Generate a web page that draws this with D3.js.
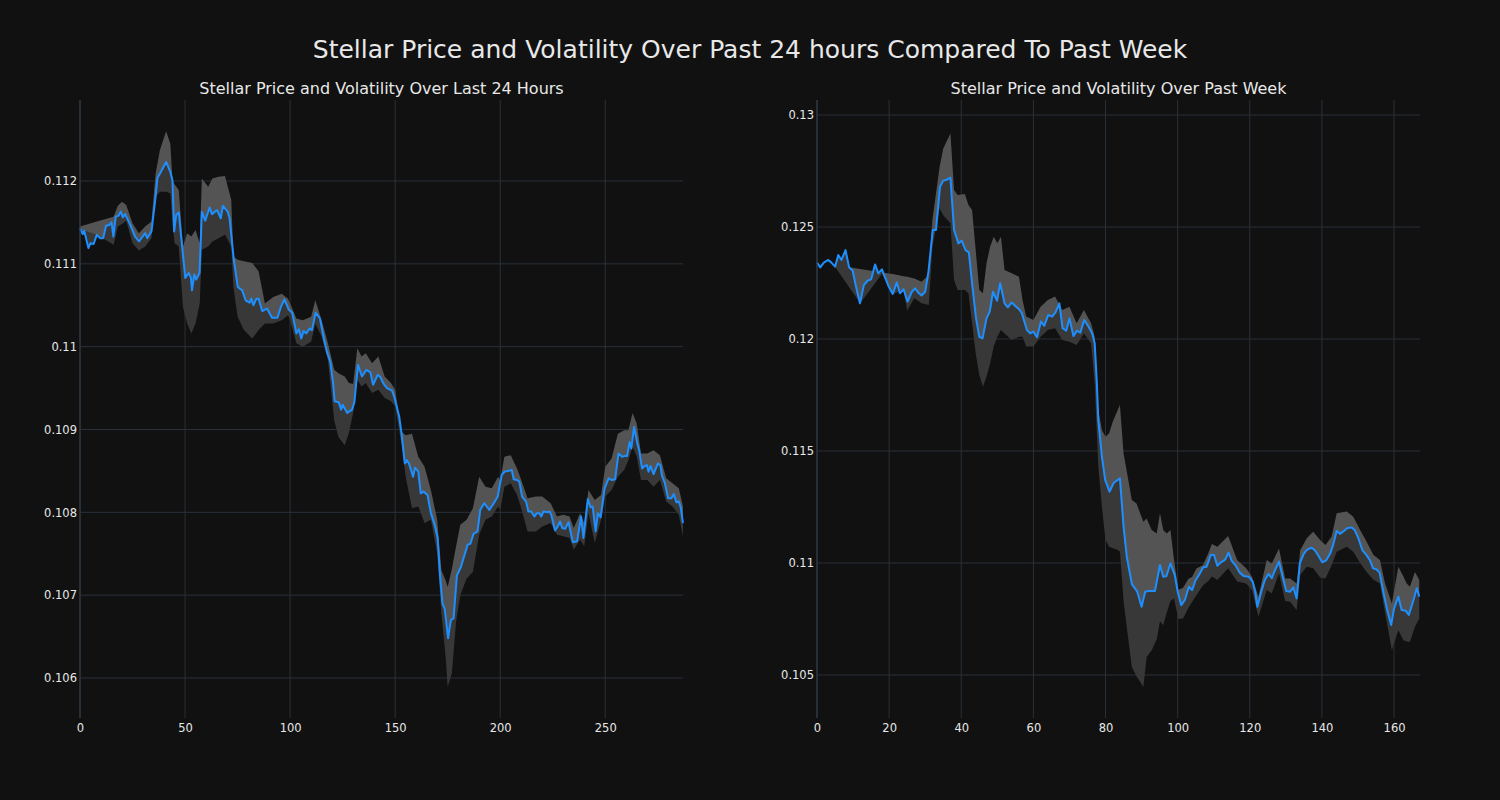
<!DOCTYPE html>
<html>
<head>
<meta charset="utf-8">
<script src="https://cdn.jsdelivr.net/npm/d3@7"></script>
<style>
  html, body { margin: 0; padding: 0; background: #111111; }
  svg { display: block; }
  text { font-family: "DejaVu Sans", sans-serif; fill: #e8e8e8; }
</style>
</head>
<body>
<svg id="chart" width="1500" height="800"></svg>
<script>
// ---------- DATA ----------
const mainTitle = "Stellar Price and Volatility Over Past 24 hours Compared To Past Week";
const dayTitle = "Stellar Price and Volatility Over Last 24 Hours";
const weekTitle = "Stellar Price and Volatility Over Past Week";

const dayXTicks = [0, 50, 100, 150, 200, 250];
const dayYTicks = [0.106, 0.107, 0.108, 0.109, 0.110, 0.111, 0.112];
const weekXTicks = [0, 20, 40, 60, 80, 100, 120, 140, 160];
const weekYTicks = [0.105, 0.110, 0.115, 0.120, 0.125, 0.130];

const dayX = [0,1.3,2,4,5,6.5,8,9.5,11,12.4,14,15,15.9,17,18.3,19.4,20.4,21.5,23.9,26.2,28.1,31,32,34,35.8,36.9,38.5,41,43,44,44.8,45.8,47,50.1,51.7,52.8,53.3,54.4,55.3,56.9,58,59.6,61.7,62.8,65.2,67,68,70.3,71.2,73.2,75.1,77.2,78.8,80.7,81.5,82.5,84,85,86.7,89,91.4,94,95.6,97.3,99.3,101,103,104.2,105.3,106.4,107.7,109.3,110.4,112.1,114.2,116.2,117.5,119.1,120.5,121.2,123.1,124.3,125,127.2,129.5,130.6,132.3,134.2,136.3,138.2,139.5,141.7,143,144.3,146.1,148.5,149.5,151.9,153,154.6,155.5,156.6,158.5,159.5,161,162.2,163.5,165.4,167,169,170.2,171.4,172.5,173.6,175.2,176.5,177.8,179.4,181.3,184.5,185.8,187.3,189.2,190.5,192.4,194.8,197.2,198.8,200.7,202,205.5,206.4,208,209.1,210.4,212.3,213.4,214.7,216.3,217.4,218.7,219.5,220.6,222.4,223.5,224.3,226.1,227.4,228.5,229.5,230.9,232.5,234.6,236.6,238.5,239.6,241.7,243,244,245.4,246.5,247.8,249.7,251.6,253.2,254.7,256.3,258,259.1,260.4,261.6,262.4,263.7,265.1,266.1,267.5,268.7,269.8,270.6,271.5,273,273.9,275.1,276.2,277,278.3,279.9,281.5,282.6,283.9,285,285.9,287];
const dayPrice = [0.11143,0.11136,0.11140,0.11119,0.11125,0.11124,0.11135,0.11131,0.11131,0.11146,0.11147,0.11150,0.11133,0.11157,0.11158,0.11163,0.11156,0.11160,0.11147,0.11133,0.11127,0.11137,0.11131,0.11139,0.11177,0.11204,0.11211,0.11223,0.11211,0.11201,0.11139,0.11159,0.11162,0.11083,0.11089,0.11083,0.11068,0.11087,0.11081,0.11089,0.11163,0.11152,0.11168,0.11160,0.11165,0.11155,0.11170,0.11163,0.11155,0.11105,0.11072,0.11068,0.11056,0.11053,0.11058,0.11050,0.11058,0.11058,0.11043,0.11046,0.11035,0.11035,0.11048,0.11057,0.11045,0.11041,0.11016,0.11021,0.11010,0.11019,0.11016,0.11022,0.11020,0.11041,0.11034,0.11008,0.10994,0.10982,0.10955,0.10934,0.10933,0.10924,0.10930,0.10920,0.10924,0.10933,0.10978,0.10964,0.10972,0.10969,0.10954,0.10966,0.10963,0.10956,0.10950,0.10947,0.10940,0.10916,0.10896,0.10859,0.10863,0.10859,0.10843,0.10854,0.10849,0.10823,0.10825,0.10821,0.10799,0.10783,0.10769,0.10722,0.10690,0.10683,0.10648,0.10670,0.10672,0.10724,0.10734,0.10761,0.10762,0.10774,0.10777,0.10803,0.10811,0.10803,0.10812,0.10819,0.10845,0.10849,0.10851,0.10840,0.10839,0.10837,0.10819,0.10813,0.10801,0.10801,0.10795,0.10799,0.10799,0.10795,0.10801,0.10800,0.10801,0.10797,0.10778,0.10783,0.10789,0.10781,0.10780,0.10788,0.10764,0.10765,0.10795,0.10769,0.10816,0.10806,0.10807,0.10777,0.10799,0.10794,0.10829,0.10841,0.10839,0.10840,0.10871,0.10867,0.10868,0.10868,0.10885,0.10877,0.10903,0.10885,0.10875,0.10853,0.10856,0.10857,0.10849,0.10856,0.10846,0.10852,0.10859,0.10857,0.10844,0.10836,0.10817,0.10817,0.10822,0.10812,0.10813,0.10806,0.10787];

const dayBandX = [0,8,16,18,20,22,25,28,31,34,36,38,41,43,44,45,47,49,51,53,55,57,58,61,63,66,69,72,73,75,78,82,85,88,92,96,99,100,103,106,110,112,115,118,121,123,126,128,130,132,134,136,139,142,145,148,150,153,155,158,161,164,167,170,172,174,175,177,179,181,184,187,190,193,196,199,200,202,205,208,210,213,217,220,224,227,230,233,235,238,240,242,245,248,250,253,256,259,261,263,265,267,270,273,276,279,282,285,287];
const dayUpper = [0.11145,0.11151,0.11157,0.11170,0.11175,0.11171,0.11149,0.11137,0.11145,0.11151,0.11209,0.11237,0.11260,0.11245,0.11201,0.11196,0.11189,0.11121,0.11137,0.11133,0.11141,0.11125,0.11203,0.11193,0.11203,0.11205,0.11206,0.11177,0.11109,0.11105,0.11103,0.11101,0.11091,0.11052,0.11060,0.11064,0.11058,0.11052,0.11034,0.11032,0.11036,0.11056,0.11032,0.11004,0.10972,0.10968,0.10964,0.10956,0.10955,0.10998,0.10988,0.10992,0.10980,0.10988,0.10964,0.10956,0.10948,0.10897,0.10893,0.10895,0.10867,0.10855,0.10827,0.10791,0.10730,0.10718,0.10710,0.10732,0.10759,0.10785,0.10791,0.10805,0.10843,0.10831,0.10829,0.10843,0.10839,0.10867,0.10869,0.10853,0.10839,0.10817,0.10819,0.10819,0.10811,0.10795,0.10797,0.10795,0.10781,0.10799,0.10787,0.10827,0.10815,0.10821,0.10855,0.10865,0.10895,0.10899,0.10899,0.10920,0.10907,0.10871,0.10871,0.10875,0.10869,0.10841,0.10835,0.10829,0.10807];
const dayLower = [0.11142,0.11135,0.11123,0.11145,0.11148,0.11152,0.11125,0.11116,0.11121,0.11131,0.11181,0.11187,0.11187,0.11185,0.11150,0.11125,0.11121,0.11048,0.11028,0.11016,0.11028,0.11052,0.11117,0.11121,0.11127,0.11131,0.11135,0.11121,0.11072,0.11036,0.11020,0.11010,0.11020,0.11028,0.11028,0.11032,0.11038,0.11032,0.11004,0.11000,0.11006,0.11028,0.11012,0.10984,0.10911,0.10891,0.10881,0.10896,0.10920,0.10960,0.10952,0.10956,0.10944,0.10948,0.10938,0.10934,0.10928,0.10883,0.10843,0.10805,0.10807,0.10787,0.10791,0.10751,0.10678,0.10626,0.10589,0.10606,0.10668,0.10700,0.10720,0.10728,0.10773,0.10791,0.10795,0.10807,0.10803,0.10831,0.10835,0.10821,0.10805,0.10777,0.10777,0.10783,0.10787,0.10773,0.10771,0.10769,0.10755,0.10767,0.10759,0.10799,0.10763,0.10791,0.10819,0.10827,0.10843,0.10851,0.10863,0.10879,0.10867,0.10839,0.10839,0.10831,0.10839,0.10813,0.10807,0.10797,0.10771];

const weekX = [0,0.9,1.9,3.1,4,5,5.9,6.8,7.9,8.9,9.9,10.8,11.9,13,14,15,16.1,17,18,19.8,21,22.1,23,24,25.1,26.3,27.2,28.1,29,30,30.9,32.1,33,34.1,35,35.9,37,38,39.2,40.1,41.2,42.1,43.1,44.1,45,45.9,47,47.9,48.8,49.9,50.8,52,52.9,54,55,56.1,56.8,58.2,59.1,60,61,62.1,63,64.1,65.2,66.1,67.2,68.1,69.1,70,71.1,72.1,73,74.1,75.3,76.3,77,77.6,78,79,79.9,81.1,82.2,83.1,84,85,85.9,87.3,88.8,90,91,91.9,93.7,95.1,96,96.9,98,99.2,100.1,101,102,103.1,104,105,105.9,107.1,108,109.2,110.1,111,112,113.2,114.1,115,116,117.2,118.3,119.7,120.8,121.5,122.1,123.3,124.2,125.2,126.1,127,128.1,129,130.1,131.2,132.1,133,133.9,135,135.9,137.1,138,138.9,140.1,141.2,142.3,143,144.1,145,146.1,147,148.2,149.1,150,151.2,152.3,153.3,154.2,155.1,156,157.1,158.1,159.2,160,161.2,162.1,163.2,164.1,165.4,166.3,167];
const weekPrice = [0.12341,0.12320,0.12341,0.12353,0.12341,0.12323,0.12375,0.12353,0.12397,0.12320,0.12305,0.12234,0.12159,0.12241,0.12260,0.12266,0.12333,0.12293,0.12311,0.12237,0.12201,0.12252,0.12204,0.12222,0.12167,0.12211,0.12226,0.12207,0.12194,0.12211,0.12300,0.12487,0.12487,0.12680,0.12707,0.12710,0.12720,0.12487,0.12427,0.12439,0.12397,0.12387,0.12234,0.12092,0.12010,0.12003,0.12092,0.12122,0.12211,0.12171,0.12249,0.12159,0.12141,0.12163,0.12147,0.12132,0.12115,0.12040,0.12025,0.12033,0.12008,0.12078,0.12059,0.12107,0.12100,0.12118,0.12159,0.12048,0.12037,0.12092,0.12013,0.12037,0.12028,0.12085,0.12055,0.12025,0.11981,0.11802,0.11638,0.11475,0.11371,0.11318,0.11356,0.11368,0.11378,0.11162,0.11028,0.10906,0.10872,0.10805,0.10872,0.10875,0.10875,0.10991,0.10939,0.10942,0.10998,0.10946,0.10865,0.10812,0.10835,0.10894,0.10879,0.10924,0.10946,0.10981,0.10983,0.11036,0.11036,0.10988,0.11003,0.11015,0.11046,0.11009,0.10991,0.10957,0.10942,0.10939,0.10917,0.10870,0.10805,0.10879,0.10925,0.10951,0.10932,0.10968,0.11006,0.10946,0.10875,0.10872,0.10891,0.10842,0.11000,0.11042,0.11060,0.11068,0.11058,0.11036,0.11003,0.11012,0.11042,0.11075,0.11143,0.11130,0.11143,0.11155,0.11159,0.11147,0.11115,0.11058,0.11036,0.11013,0.10976,0.10972,0.10957,0.10865,0.10790,0.10723,0.10797,0.10850,0.10790,0.10787,0.10768,0.10835,0.10887,0.10850];

const weekBandX = [5,12,18,21,24,25,27,29,31,32,34,35,37,38,39,41,42,43,44,45,46,47,48,49,50,51,52,54,56,57,58,60,62,64,66,68,70,72,74,76,77,78,79,80,81,82,83,84,85,86,87.3,88.6,89.6,90.5,91.4,92.8,94.2,95.1,96,97,98,99,100.2,101.5,103,104,105.2,107,108.5,109.5,111,114,116.5,119,120.6,122.4,124.7,126.1,128.1,129.8,131.2,133,134,135.8,137.6,139.5,141,142.7,144.1,146.9,148.7,150.6,152.4,154.3,156.1,157.5,159.4,161.2,162.6,163.5,164.4,165.8,167];
const weekUpper = [0.12330,0.12313,0.12297,0.12290,0.12280,0.12278,0.12270,0.12256,0.12286,0.12531,0.12769,0.12851,0.12918,0.12665,0.12643,0.12647,0.12598,0.12576,0.12397,0.12219,0.12204,0.12338,0.12412,0.12457,0.12427,0.12457,0.12308,0.12293,0.12278,0.12174,0.12100,0.12085,0.12144,0.12174,0.12190,0.12129,0.12144,0.12070,0.12129,0.12070,0.12010,0.11683,0.11594,0.11564,0.11579,0.11631,0.11668,0.11705,0.11490,0.11400,0.11281,0.11266,0.11222,0.11184,0.11199,0.11147,0.11132,0.11222,0.11147,0.11132,0.11147,0.11013,0.10879,0.10890,0.10930,0.10937,0.10975,0.10990,0.11043,0.11085,0.11073,0.11121,0.11013,0.10976,0.10939,0.10849,0.11013,0.10998,0.11065,0.10931,0.10931,0.10909,0.11058,0.11110,0.11140,0.11103,0.11080,0.11118,0.11222,0.11230,0.11207,0.11147,0.11095,0.11036,0.11013,0.10909,0.10819,0.10983,0.10940,0.10909,0.10894,0.10960,0.10924];
const weekLower = [0.12323,0.12160,0.12290,0.12200,0.12222,0.12127,0.12182,0.12160,0.12152,0.12412,0.12583,0.12553,0.12517,0.12263,0.12219,0.12219,0.12204,0.12070,0.11936,0.11839,0.11787,0.11832,0.11891,0.11966,0.12010,0.12040,0.12025,0.11995,0.12010,0.12010,0.11966,0.11966,0.12010,0.12040,0.12048,0.11995,0.11988,0.11973,0.12025,0.11981,0.11802,0.11430,0.11251,0.11103,0.11073,0.11066,0.11061,0.11051,0.10830,0.10700,0.10536,0.10493,0.10470,0.10446,0.10580,0.10610,0.10660,0.10740,0.10722,0.10780,0.10830,0.10841,0.10750,0.10752,0.10800,0.10826,0.10856,0.10900,0.10920,0.10940,0.10924,0.10976,0.10917,0.10909,0.10879,0.10760,0.10879,0.10864,0.10954,0.10830,0.10827,0.10789,0.10946,0.10983,0.10976,0.10935,0.10931,0.10990,0.11050,0.11073,0.11050,0.11000,0.10960,0.10925,0.10909,0.10780,0.10610,0.10700,0.10655,0.10650,0.10647,0.10715,0.10752];

// ---------- DRAW ----------
const svg = d3.select("#chart");
svg.append("rect").attr("width", 1500).attr("height", 800).attr("fill", "#111111");

svg.append("text").attr("x", 750).attr("y", 58).attr("text-anchor", "middle")
  .style("font-size", "25px").text(mainTitle);

const plotTop = 100, plotBottom = 718;
const fmt = d3.format(".3~f");

function panel(opts) {
  const { left, right, xDomain, yDomain, xTicks, yTicks, title, xs, ys, bx, bu, bl } = opts;
  const x = d3.scaleLinear().domain(xDomain).range([left, right]);
  const y = d3.scaleLinear().domain(yDomain).range([plotBottom, plotTop]);
  const g = svg.append("g");

  // grid
  g.append("g").selectAll("line").data(yTicks).join("line")
    .attr("x1", left).attr("x2", right).attr("y1", d => y(d)).attr("y2", d => y(d))
    .attr("stroke", "#29313b").attr("stroke-width", 1);
  g.append("g").selectAll("line").data(xTicks).join("line")
    .attr("x1", d => x(d)).attr("x2", d => x(d)).attr("y1", plotTop).attr("y2", plotBottom)
    .attr("stroke", "#29313b").attr("stroke-width", 1);

  // band: upper part (price -> upper), lower part (lower -> price)
  const bStart = bx[0];
  const pricePts = xs.map((v, i) => [v, ys[i]]).filter(p => p[0] >= bStart);
  const upperPts = bx.map((v, i) => [v, bu[i]]);
  const lowerPts = bx.map((v, i) => [v, bl[i]]);
  const poly = d3.line().x(d => x(d[0])).y(d => y(d[1]));
  g.append("path").attr("d", poly(upperPts.concat(pricePts.slice().reverse())) + "Z")
    .attr("fill", "#545454").attr("stroke", "none");
  g.append("path").attr("d", poly(pricePts.concat(lowerPts.slice().reverse())) + "Z")
    .attr("fill", "#383838").attr("stroke", "none");

  // price line
  g.append("path").attr("d", poly(xs.map((v, i) => [v, ys[i]])))
    .attr("fill", "none").attr("stroke", "#1e8fff").attr("stroke-width", 2)
    .attr("stroke-linejoin", "round");

  // left spine
  g.append("line").attr("x1", left).attr("x2", left).attr("y1", plotTop).attr("y2", plotBottom)
    .attr("stroke", "#2f3945").attr("stroke-width", 1.2);

  // axes
  const xa = g.append("g").attr("transform", `translate(0,${plotBottom})`)
    .call(d3.axisBottom(x).tickValues(xTicks).tickSize(0).tickPadding(6).tickFormat(d3.format("d")));
  const ya = g.append("g").attr("transform", `translate(${left},0)`)
    .call(d3.axisLeft(y).tickValues(yTicks).tickSize(0).tickPadding(3).tickFormat(fmt));
  [xa, ya].forEach(a => {
    a.select(".domain").remove();
    a.selectAll("text").style("font-size", "11.5px").attr("fill", "#e8e8e8")
      .style("font-family", "'DejaVu Sans', sans-serif");
  });

  svg.append("text").attr("x", (left + right) / 2).attr("y", 94).attr("text-anchor", "middle")
    .style("font-size", "16px").text(title);
}

panel({ left: 80, right: 683, xDomain: [0, 287], yDomain: [0.105517, 0.112978],
  xTicks: dayXTicks, yTicks: dayYTicks, title: dayTitle,
  xs: dayX, ys: dayPrice, bx: dayBandX, bu: dayUpper, bl: dayLower });

panel({ left: 817, right: 1420, xDomain: [0, 167.2], yDomain: [0.10308, 0.13067],
  xTicks: weekXTicks, yTicks: weekYTicks, title: weekTitle,
  xs: weekX, ys: weekPrice, bx: weekBandX, bu: weekUpper, bl: weekLower });
</script>
</body>
</html>
